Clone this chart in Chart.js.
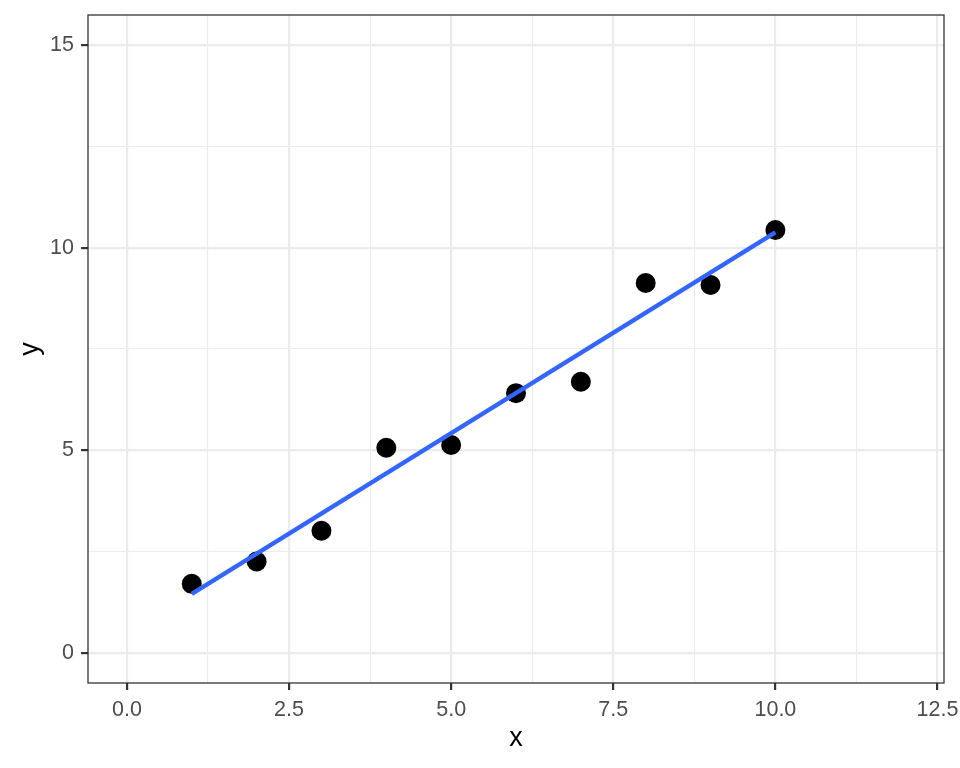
<!DOCTYPE html>
<html>
<head>
<meta charset="utf-8">
<script src="https://cdn.jsdelivr.net/npm/chart.js@4/dist/chart.umd.min.js"></script>
<style>
  html, body { margin: 0; padding: 0; background: #ffffff; }
  #wrap { width: 960px; height: 768px; }
</style>
</head>
<body>
<div id="wrap"><canvas id="chart" width="960" height="768"></canvas></div>
<script>
(function () {
  "use strict";

  // observed points
  var xValues = [1, 2, 3, 4, 5, 6, 7, 8, 9, 10];
  var yValues = [1.70, 2.25, 3.01, 5.06, 5.13, 6.41, 6.69, 9.13, 9.08, 10.44];

  // fitted line at its two ends
  var fitX = [1, 10];
  var fitY = [1.45, 10.38];

  // axis breaks
  var xMajor = [0, 2.5, 5, 7.5, 10, 12.5];
  var xMinor = [1.25, 3.75, 6.25, 8.75, 11.25];
  var xLabels = ["0.0", "2.5", "5.0", "7.5", "10.0", "12.5"];
  var yMajor = [0, 5, 10, 15];
  var yMinor = [2.5, 7.5, 12.5];
  var yLabels = ["0", "5", "10", "15"];

  var colors = {
    point: "#000000",
    line: "#3366FF",
    grid: "#EBEBEB",
    border: "#333333",
    tickText: "#4D4D4D",
    title: "#000000"
  };
  var fontFamily = "'Liberation Sans', Arial, Helvetica, sans-serif";

  function toPoints(xs, ys) {
    return xs.map(function (x, i) { return { x: x, y: ys[i] }; });
  }

  function allTicks(major, minor) {
    return major.concat(minor).sort(function (a, b) { return a - b; })
      .map(function (v) { return { value: v }; });
  }

  function isMajor(list, v) {
    return list.some(function (m) { return Math.abs(m - v) < 1e-9; });
  }

  function axis(major, minor, labels, title, fitSize) {
    return {
      type: "linear",
      afterBuildTicks: function (scale) { scale.ticks = allTicks(major, minor); },
      afterFit: function (scale) {
        fitSize(scale);
        // no extra room for overhanging labels, the layout padding decides
        scale.paddingLeft = 0;
        scale.paddingRight = 0;
        scale.paddingTop = 0;
        scale.paddingBottom = 0;
      },
      ticks: {
        autoSkip: false,
        maxRotation: 0,
        padding: 7,
        color: colors.tickText,
        font: { family: fontFamily, size: 21.5 },
        callback: function (value) {
          for (var i = 0; i < major.length; i++) {
            if (Math.abs(major[i] - value) < 1e-9) return labels[i];
          }
          return "";
        }
      },
      grid: {
        color: colors.grid,
        lineWidth: function (ctx) { return ctx.tick && isMajor(major, ctx.tick.value) ? 2.2 : 1.1; },
        drawTicks: true,
        tickLength: 7,
        tickWidth: 2.2,
        tickColor: function (ctx) {
          return ctx.tick && isMajor(major, ctx.tick.value) ? colors.border : "rgba(0,0,0,0)";
        }
      },
      border: { display: false },
      title: {
        display: true,
        text: title,
        color: colors.title,
        font: { family: fontFamily, size: 27 }
      }
    };
  }

  var panelBorder = {
    id: "panelBorder",
    afterDatasetsDraw: function (chart) {
      var a = chart.chartArea;
      var c = chart.ctx;
      c.save();
      c.strokeStyle = colors.border;
      c.lineWidth = 1.3;
      c.strokeRect(a.left, a.top, a.right - a.left, a.bottom - a.top);
      c.restore();
    }
  };

  var xScale = axis(xMajor, xMinor, xLabels, "x", function (scale) { scale.height = 85; });
  xScale.min = -0.6;
  xScale.max = 12.6;
  xScale.title.padding = { top: 0, bottom: 13 };

  var yScale = axis(yMajor, yMinor, yLabels, "y", function (scale) { scale.width = 88; });
  yScale.min = -0.75;
  yScale.max = 15.75;
  yScale.title.padding = { top: 14, bottom: 0 };

  new Chart(document.getElementById("chart"), {
    type: "scatter",
    data: {
      datasets: [
        {
          type: "line",
          label: "fit",
          data: toPoints(fitX, fitY),
          borderColor: colors.line,
          borderWidth: 4.4,
          borderCapStyle: "butt",
          pointRadius: 0,
          fill: false
        },
        {
          type: "scatter",
          label: "points",
          data: toPoints(xValues, yValues),
          backgroundColor: colors.point,
          borderColor: colors.point,
          borderWidth: 0,
          pointRadius: 10
        }
      ]
    },
    options: {
      responsive: false,
      animation: false,
      layout: { padding: { top: 15, right: 16, bottom: 0, left: 0 } },
      scales: { x: xScale, y: yScale },
      plugins: {
        legend: { display: false },
        tooltip: { enabled: false }
      }
    },
    plugins: [panelBorder]
  });
})();
</script>
</body>
</html>
